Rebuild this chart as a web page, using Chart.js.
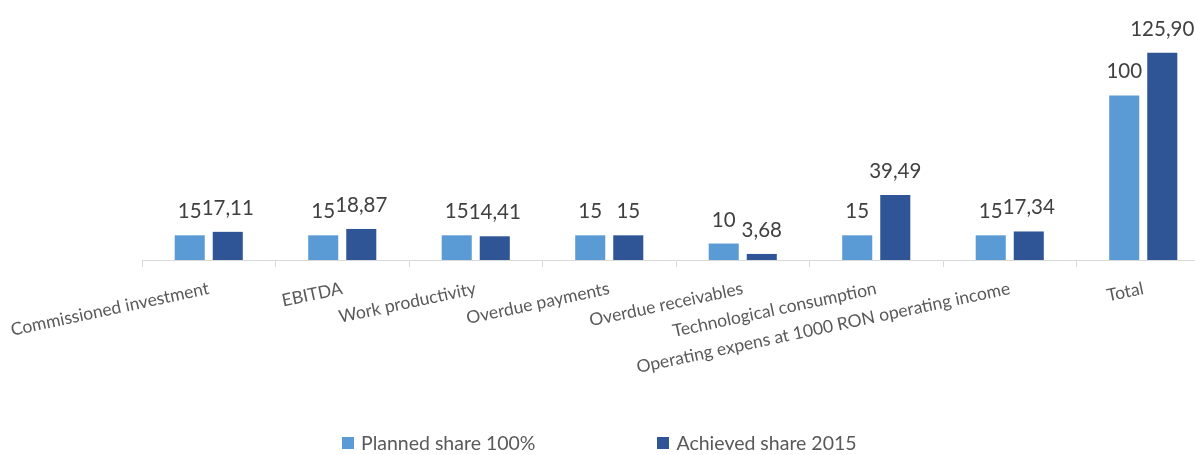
<!DOCTYPE html>
<html lang="en">
<head>
  <meta charset="UTF-8" />
  <title>Planned vs achieved share 2015</title>
  <script src="https://cdn.jsdelivr.net/npm/chart.js@4.4.1/dist/chart.umd.min.js"></script>
  <style>
    html, body { margin: 0; padding: 0; background: #fff; overflow: hidden; }
    .wrap { position: relative; width: 1195px; height: 455px; overflow: hidden; }
    .box { position: absolute; left: 0; top: 0; width: 1212px; height: 455px; }
    .legend { position: absolute; left: 342px; top: 431px; display: flex; font: 19.5px Lato, sans-serif; color: #595959; }
    .legend span { display: flex; align-items: center; }
    .legend i { display: inline-block; width: 12px; height: 12px; margin-right: 7px; }
  </style>
</head>
<body>
  <div class="wrap">
    <div class="box"><canvas id="chart"></canvas></div>
    <div class="legend" id="legend"></div>
  </div>

  <script>
  const categories = [
    'Commissioned investment', 'EBITDA', 'Work productivity', 'Overdue payments',
    'Overdue receivables', 'Technological consumption',
    'Operating expens at 1000 RON operating income', 'Total'
  ];
  const seriesNames = ['Planned share 100%', 'Achieved share 2015'];
  const planned  = [15, 15, 15, 15, 10, 15, 15, 100];
  const achieved = [17.11, 18.87, 14.41, 15, 3.68, 39.49, 17.34, 125.9];
  const colors   = ['#5B9BD5', '#2F5597'];

  const fmt = v => Number.isInteger(v) ? String(v) : v.toFixed(2).replace('.', ',');

  // value labels above bars
  const valueLabels = {
    id: 'valueLabels',
    afterDatasetsDraw(chart) {
      const ctx = chart.ctx;
      ctx.save();
      ctx.font = '20.5px Lato, sans-serif';
      ctx.fillStyle = '#404040';
      ctx.textAlign = 'center';
      ctx.textBaseline = 'alphabetic';
      chart.data.datasets.forEach((ds, di) => {
        chart.getDatasetMeta(di).data.forEach((bar, i) => {
          ctx.fillText(fmt(ds.data[i]), bar.x, bar.y - 17);
        });
      });
      ctx.restore();
    }
  };

  new Chart(document.getElementById('chart'), {
    type: 'bar',
    data: {
      labels: categories,
      datasets: [
        { label: seriesNames[0], data: planned,  backgroundColor: colors[0] },
        { label: seriesNames[1], data: achieved, backgroundColor: colors[1] }
      ]
    },
    options: {
      responsive: true,
      maintainAspectRatio: false,
      animation: false,
      layout: { padding: { left: 142, right: 2, top: 0, bottom: 0 } },
      categoryPercentage: 0.57,
      barPercentage: 0.79,
      plugins: { legend: { display: false }, tooltip: { enabled: false } },
      scales: {
        x: {
          grid: { drawOnChartArea: false, drawTicks: true, tickLength: 7, color: '#d9d9d9', offset: true },
          border: { color: '#d9d9d9', width: 1 },
          ticks: {
            minRotation: 12, maxRotation: 12, padding: 11, autoSkip: false,
            color: '#595959', font: { family: 'Lato', size: 17.5 }
          },
          afterFit: s => { s.height = 195; s.paddingLeft = 0; s.paddingRight = 0; }
        },
        y: { display: false, min: 0, max: 158 }
      }
    },
    plugins: [valueLabels]
  });

  const legend = document.getElementById('legend');
  seriesNames.forEach((n, i) => {
    const s = document.createElement('span');
    s.style.marginRight = i === 0 ? '122px' : '0';
    s.innerHTML = `<i style="background:${colors[i]}"></i>${n}`;
    legend.appendChild(s);
  });
  </script>
</body>
</html>
